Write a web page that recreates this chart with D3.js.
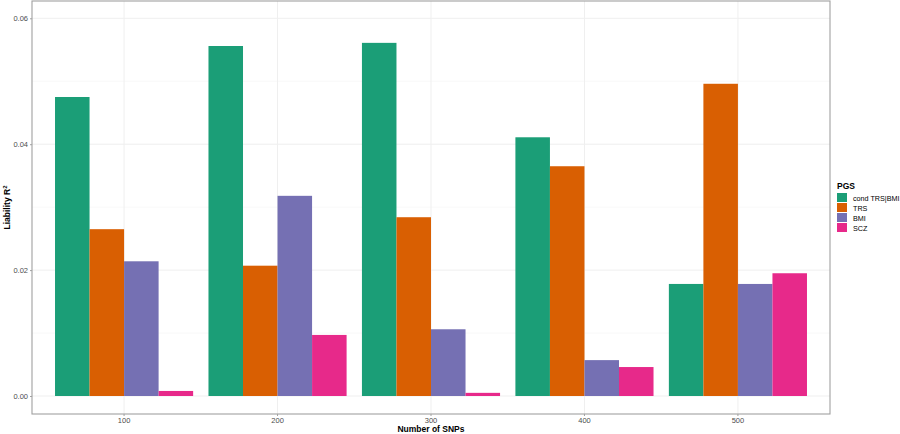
<!DOCTYPE html>
<html>
<head>
<meta charset="utf-8">
<script src="https://cdn.jsdelivr.net/npm/d3@7"></script>
<style>
  body { margin: 0; background: #fff; }
  text { font-family: "Liberation Sans", Arial, sans-serif; }
</style>
</head>
<body>
<div id="chart"></div>
<script>
// chart data
const snps = ['100', '200', '300', '400', '500'];
const pgs = ['cond TRS|BMI', 'TRS', 'BMI', 'SCZ'];
const condTrsBmi = [0.0475, 0.0556, 0.0561, 0.0411, 0.0178];
const trs = [0.0265, 0.0207, 0.0284, 0.0365, 0.0496];
const bmi = [0.0214, 0.0318, 0.0106, 0.0057, 0.0178];
const scz = [0.0008, 0.0097, 0.0005, 0.0046, 0.0195];
const yTicks = [0, 0.02, 0.04, 0.06];
const yMinor = [0.01, 0.03, 0.05];
const colors = ['#1B9E77', '#D95F02', '#7570B3', '#E7298A'];

const seriesValues = [condTrsBmi, trs, bmi, scz];
const rows = [];
snps.forEach((s, i) => {
    pgs.forEach((p, j) => {
        rows.push({ snp: s, pgs: p, value: seriesValues[j][i] });
    });
});

const width = 900, height = 434;
const panel = { left: 32, top: 1, right: 830, bottom: 414 };

const svg = d3.select('#chart').append('svg')
    .attr('width', width)
    .attr('height', height);

// ggplot style discrete expansion: 0.6 units each side
const x = d3.scaleBand()
    .domain(snps)
    .range([panel.left, panel.right])
    .paddingInner(0.1)
    .paddingOuter(0.15);

const xInner = d3.scaleBand()
    .domain(pgs)
    .range([0, x.bandwidth()]);

const y = d3.scaleLinear()
    .domain([-0.00286, 0.06275])
    .range([panel.bottom, panel.top]);

const g = svg.append('g');

// grid
g.selectAll('.minor')
    .data(yMinor)
    .enter().append('line')
    .attr('x1', panel.left).attr('x2', panel.right)
    .attr('y1', d => y(d)).attr('y2', d => y(d))
    .attr('stroke', '#f4f4f4').attr('stroke-width', 0.6);

g.selectAll('.major')
    .data(yTicks)
    .enter().append('line')
    .attr('x1', panel.left).attr('x2', panel.right)
    .attr('y1', d => y(d)).attr('y2', d => y(d))
    .attr('stroke', '#efefef').attr('stroke-width', 1);

g.selectAll('.vgrid')
    .data(snps)
    .enter().append('line')
    .attr('x1', d => x(d) + x.bandwidth() / 2).attr('x2', d => x(d) + x.bandwidth() / 2)
    .attr('y1', panel.top).attr('y2', panel.bottom)
    .attr('stroke', '#efefef').attr('stroke-width', 1);

// bars
g.selectAll('rect.bar')
    .data(rows)
    .enter().append('rect')
    .attr('class', 'bar')
    .attr('x', d => x(d.snp) + xInner(d.pgs))
    .attr('width', xInner.bandwidth())
    .attr('y', d => y(d.value))
    .attr('height', d => y(0) - y(d.value))
    .attr('fill', d => colors[pgs.indexOf(d.pgs)]);

// panel border
svg.append('rect')
    .attr('x', panel.left).attr('y', panel.top)
    .attr('width', panel.right - panel.left)
    .attr('height', panel.bottom - panel.top)
    .attr('fill', 'none')
    .attr('stroke', '#a0a0a0')
    .attr('stroke-width', 1.1);

// axes
const yAxis = svg.append('g')
    .attr('transform', `translate(${panel.left},0)`)
    .call(d3.axisLeft(y).tickValues(yTicks).tickFormat(d3.format('.2f')).tickSize(2).tickPadding(2));
const xAxis = svg.append('g')
    .attr('transform', `translate(0,${panel.bottom})`)
    .call(d3.axisBottom(x).tickSize(2).tickPadding(1.5));

[yAxis, xAxis].forEach(a => {
    a.select('.domain').remove();
    a.selectAll('line').attr('stroke', '#a0a0a0');
    a.selectAll('text').attr('fill', '#4d4d4d').style('font-size', '7.5px')
        .style('font-family', '"Liberation Sans", Arial, sans-serif');
});

// axis titles
svg.append('text')
    .attr('x', (panel.left + panel.right) / 2)
    .attr('y', 432)
    .attr('text-anchor', 'middle')
    .style('font-size', '8.5px')
    .style('font-weight', 'bold')
    .text('Number of SNPs');

const yTitle = svg.append('text')
    .attr('transform', `translate(10,${(panel.top + panel.bottom) / 2}) rotate(-90)`)
    .attr('text-anchor', 'middle')
    .style('font-size', '8.5px')
    .style('font-weight', 'bold');
yTitle.append('tspan').text('Liability R');
yTitle.append('tspan').attr('dy', -3.5).style('font-size', '6px').text('2');

// legend
const legend = svg.append('g').attr('transform', 'translate(837,0)');
legend.append('text')
    .attr('x', 0).attr('y', 189)
    .style('font-size', '8.5px')
    .style('font-weight', 'bold')
    .text('PGS');

const items = legend.selectAll('.item')
    .data(pgs)
    .enter().append('g')
    .attr('transform', (d, i) => `translate(0,${193 + i * 10})`);
items.append('rect')
    .attr('width', 10).attr('height', 9)
    .attr('fill', (d, i) => colors[i]);
items.append('text')
    .attr('x', 16).attr('y', 7.5)
    .style('font-size', '7.2px')
    .attr('fill', '#000')
    .text(d => d);
</script>
</body>
</html>
